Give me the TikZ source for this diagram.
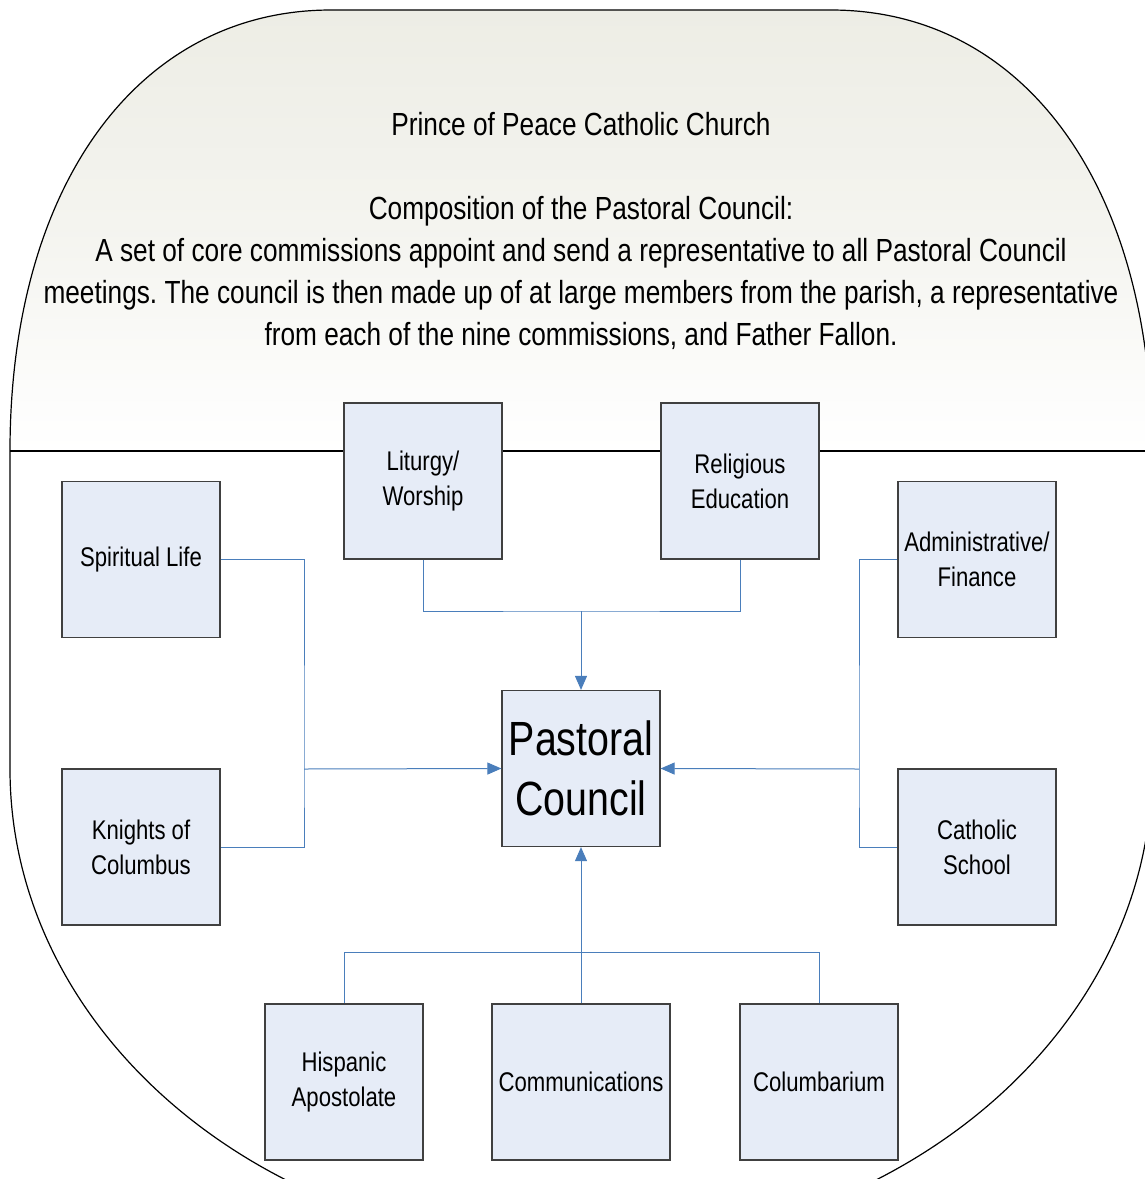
\documentclass[tikz,border=0pt]{standalone}
\usepackage{fontspec}
\setmainfont{Liberation Sans}[FakeStretch=0.82]
\usetikzlibrary{arrows.meta,positioning}
\frenchspacing

\definecolor{boxfill}{HTML}{E6ECF7}
\definecolor{boxline}{HTML}{404040}
\definecolor{linkblue}{HTML}{4A7EBB}
\definecolor{topshade}{HTML}{EDEDE5}

\tikzset{
  commission/.style={draw=boxline,fill=boxfill,line width=0.6pt,
    minimum width=79pt,minimum height=78pt,inner sep=2pt,align=center,
    font=\fontsize{13.5}{17.5}\selectfont},
  council/.style={commission,font=\fontsize{24}{30}\selectfont},
  link/.style={draw=linkblue,line width=0.5pt},
  feed/.style={link,-{Triangle[length=7pt,width=6pt]}},
}

\begin{document}
\begin{tikzpicture}[x=0.5pt,y=-0.5pt]
	\useasboundingbox (0,0) rectangle (1145,1179);
	
	% outer outline
	\shade[top color=topshade,bottom color=white,middle color=topshade!60]
		(10,451) .. controls (10,186) and (138,10) .. (331,10) -- (831,10)
		.. controls (1024,10) and (1152,186) .. (1152,451) -- cycle;
	\draw[line width=0.6pt]
		(10,451) .. controls (10,186) and (138,10) .. (331,10) -- (831,10)
		.. controls (1024,10) and (1152,186) .. (1152,451) -- (1152,769)
		.. controls (1152,1034) and (896,1249) .. (581,1249)
		.. controls (266,1249) and (10,1034) .. (10,769) -- cycle;
	\draw[line width=0.6pt] (10,451) -- (1152,451);
	
	\node[align=center,font=\fontsize{16}{21}\selectfont] (heading) at (581,231)
		{Prince of Peace Catholic Church\\[21pt]
		 Composition of the Pastoral Council:\\
		 A set of core commissions appoint and send a representative to all Pastoral Council\\
		 meetings. The council is then made up of at large members from the parish, a representative\\
		 from each of the nine commissions, and Father Fallon.};
	
	% commissions
	\node[commission] (liturgy) at (423,481) {Liturgy/\\Worship};
	\node[commission] (religious) at (740,481) {Religious\\Education};
	\node[commission] (spiritual) at (141,559.5) {Spiritual Life};
	\node[commission] (knights) at (141,847) {Knights of\\Columbus};
	\node[commission] (admin) at (977,559.5) {Administrative/\\Finance};
	\node[commission] (school) at (977,847) {Catholic\\School};
	\node[commission] (hispanic) at (344,1082) {Hispanic\\Apostolate};
	\node[commission,minimum width=89pt] (comm) at (581,1082) {Communications};
	\node[commission] (columbarium) at (819,1082) {Columbarium};
	
	\node[council] (pastoral) at (581,768.5) {Pastoral\\Council};
	
	\coordinate (topjoin) at (581,611);
	\coordinate (leftjoin) at (304,769);
	\coordinate (rightjoin) at (859,769);
	\coordinate (botjoin) at (581,952);
	
	\draw[link] (liturgy.south) |- (topjoin) -| (religious.south);
	\draw[feed] (topjoin) -- (pastoral.north);
	\draw[link] (spiritual.east) -| (leftjoin) |- (knights.east);
	\draw[feed] (leftjoin) -- (pastoral.west);
	\draw[link] (admin.west) -| (rightjoin) |- (school.west);
	\draw[feed] (rightjoin) -- (pastoral.east);
	\draw[link] (hispanic.north) |- (botjoin) -| (columbarium.north);
	\draw[feed] (comm.north) -- (pastoral.south);
	
\end{tikzpicture}
\end{document}
